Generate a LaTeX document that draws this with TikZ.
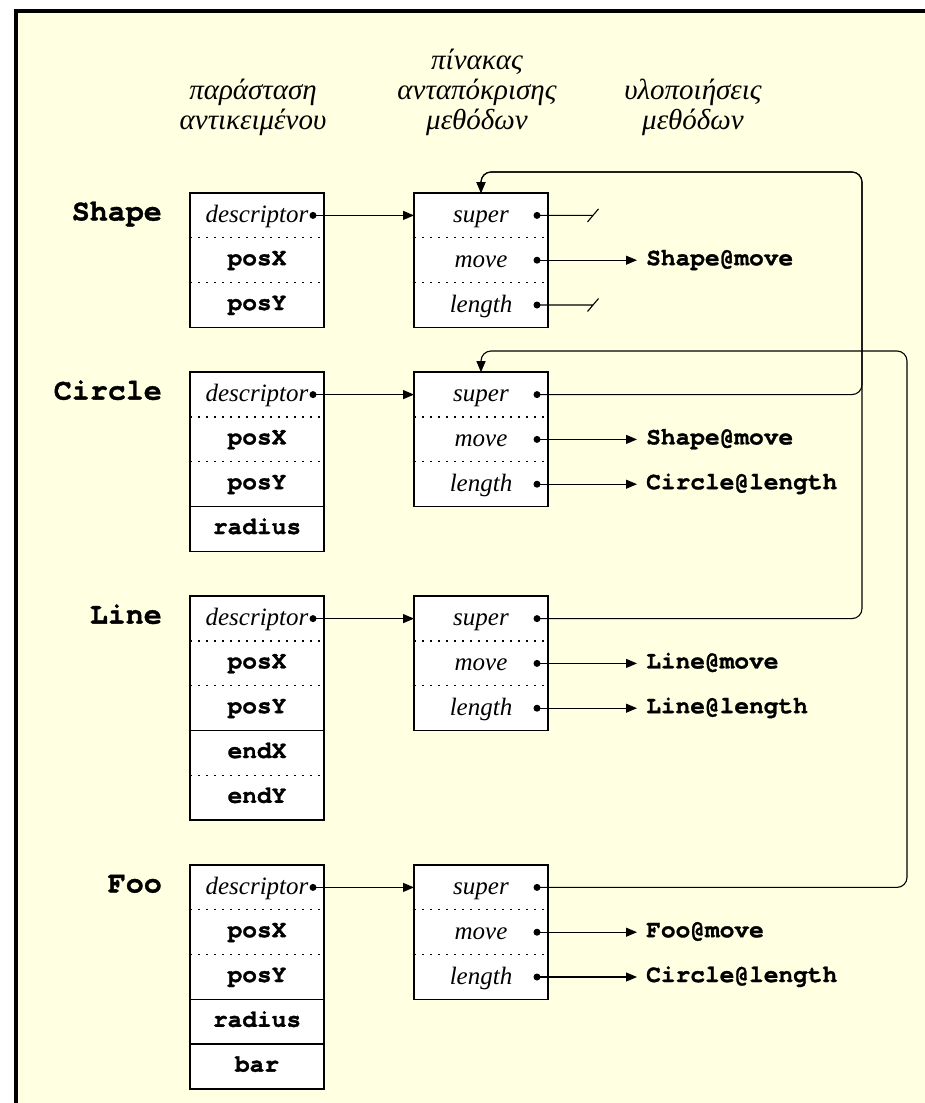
\documentclass[tikz,border=0pt]{standalone}
\usepackage{fontspec}
\setmainfont{Liberation Serif}
\setmonofont{texgyrecursor}[Extension=.otf,UprightFont=*-regular,BoldFont=*-bold,ItalicFont=*-italic,BoldItalicFont=*-bolditalic,BoldFeatures={FakeBold=1.2}]
\usetikzlibrary{arrows.meta}
\definecolor{paper}{RGB}{255,255,225}

\newcommand\slotfont{\fontsize{25}{30}\selectfont\itshape}
\newcommand\headfont{\fontsize{29}{30}\selectfont\itshape}
\newcommand\codefont{\fontsize{24.5}{29}\selectfont\ttfamily\bfseries}
\newcommand\classfont{\fontsize{30}{36}\selectfont\ttfamily\bfseries}

\begin{document}
\begin{tikzpicture}[x=1pt,y=-1pt,
  cell/.style={minimum width=134pt,minimum height=44.8pt,inner sep=0pt,outer sep=0pt,fill=white},
  slot/.style={cell,font=\slotfont,text height=17pt,text depth=3pt},
  field/.style={cell,font=\codefont,text height=14pt,text depth=4pt},
  frame/.style={draw=black,line width=1.7pt},
  sep/.style={line width=1.2pt,dash pattern=on 1.6pt off 6.4pt},
  solidsep/.style={line width=1.5pt},
  ptr/.style={circle,fill=black,inner sep=0pt,minimum size=7pt},
  link/.style={line width=1.1pt},
  arr/.style={link,-{Triangle[length=11pt,width=9pt]}},
  impl/.style={font=\codefont,anchor=west,inner xsep=9pt,inner ysep=0pt,text height=14pt,text depth=4pt},
  cls/.style={font=\classfont,anchor=base east,inner sep=0pt},
  head/.style={font=\headfont,align=center,anchor=south,inner sep=0pt},
  loop/.style={arr,rounded corners=10pt}
]
\useasboundingbox (0,0) rectangle (925,1103);
% page and frame
\fill[paper] (18,13) rectangle (925,1103);
\fill[black] (14,9) rectangle (925,13);
\fill[black] (14,9) rectangle (18,1103);

% column headings
\node[head] (h-obj)  at (253,136) {παράσταση\\αντικειμένου};
\node[head] (h-tab)  at (477,136) {πίνακας\\ανταπόκρισης\\μεθόδων};
\node[head] (h-impl) at (693,136) {υλοποιήσεις\\μεθόδων};

% ---------------- Shape ----------------
\node[cls] (S) at (162,220.4) {Shape};
\node[slot]  (S-o1) at (257,215.4) {descriptor\hspace{12pt}};
\node[field] (S-o2) at (257,260.2) {posX};
\node[field] (S-o3) at (257,305.0) {posY};
\draw[frame] (S-o1.north west) rectangle (S-o3.south east);
\draw[sep] (S-o1.south west) -- (S-o1.south east);
\draw[sep] (S-o2.south west) -- (S-o2.south east);
\node[ptr] (S-d) at (313,215.4) {};

\node[slot] (S-t1) at (481,215.4) {super};
\node[slot] (S-t2) at (481,260.2) {move};
\node[slot] (S-t3) at (481,305.0) {length};
\draw[frame] (S-t1.north west) rectangle (S-t3.south east);
\draw[sep] (S-t1.south west) -- (S-t1.south east);
\draw[sep] (S-t2.south west) -- (S-t2.south east);
\node[ptr] (S-p1) at (537,215.4) {};
\node[ptr] (S-p2) at (537,260.2) {};
\node[ptr] (S-p3) at (537,305.0) {};

\node[impl] (S-i2) at (637,260.2) {Shape@move};

\draw[arr] (S-d.center) -- (S-t1.west);
\draw[link] (S-p1.center) -- ++(56,0) coordinate (S-n1) ++(-5.5,6.5) -- ++(11,-13);
\draw[arr] (S-p2.center) -- (S-i2.west);
\draw[link] (S-p3.center) -- ++(56,0) coordinate (S-n3) ++(-5.5,6.5) -- ++(11,-13);

% ---------------- Circle ----------------
\node[cls] (C) at (162,399.6) {Circle};
\node[slot]  (C-o1) at (257,394.6) {descriptor\hspace{12pt}};
\node[field] (C-o2) at (257,439.4) {posX};
\node[field] (C-o3) at (257,484.2) {posY};
\node[field] (C-o4) at (257,529.0) {radius};
\draw[frame] (C-o1.north west) rectangle (C-o4.south east);
\draw[sep] (C-o1.south west) -- (C-o1.south east);
\draw[sep] (C-o2.south west) -- (C-o2.south east);
\draw[solidsep] (C-o3.south west) -- (C-o3.south east);
\node[ptr] (C-d) at (313,394.6) {};

\node[slot] (C-t1) at (481,394.6) {super};
\node[slot] (C-t2) at (481,439.4) {move};
\node[slot] (C-t3) at (481,484.2) {length};
\draw[frame] (C-t1.north west) rectangle (C-t3.south east);
\draw[sep] (C-t1.south west) -- (C-t1.south east);
\draw[sep] (C-t2.south west) -- (C-t2.south east);
\node[ptr] (C-p1) at (537,394.6) {};
\node[ptr] (C-p2) at (537,439.4) {};
\node[ptr] (C-p3) at (537,484.2) {};

\node[impl] (C-i2) at (637,439.4) {Shape@move};
\node[impl] (C-i3) at (637,484.2) {Circle@length};

\draw[arr] (C-d.center) -- (C-t1.west);
\draw[arr] (C-p2.center) -- (C-i2.west);
\draw[arr] (C-p3.center) -- (C-i3.west);

% ---------------- Line ----------------
\node[cls] (L) at (162,623.6) {Line};
\node[slot]  (L-o1) at (257,618.6) {descriptor\hspace{12pt}};
\node[field] (L-o2) at (257,663.4) {posX};
\node[field] (L-o3) at (257,708.2) {posY};
\node[field] (L-o4) at (257,753.0) {endX};
\node[field] (L-o5) at (257,797.8) {endY};
\draw[frame] (L-o1.north west) rectangle (L-o5.south east);
\draw[sep] (L-o1.south west) -- (L-o1.south east);
\draw[sep] (L-o2.south west) -- (L-o2.south east);
\draw[solidsep] (L-o3.south west) -- (L-o3.south east);
\draw[sep] (L-o4.south west) -- (L-o4.south east);
\node[ptr] (L-d) at (313,618.6) {};

\node[slot] (L-t1) at (481,618.6) {super};
\node[slot] (L-t2) at (481,663.4) {move};
\node[slot] (L-t3) at (481,708.2) {length};
\draw[frame] (L-t1.north west) rectangle (L-t3.south east);
\draw[sep] (L-t1.south west) -- (L-t1.south east);
\draw[sep] (L-t2.south west) -- (L-t2.south east);
\node[ptr] (L-p1) at (537,618.6) {};
\node[ptr] (L-p2) at (537,663.4) {};
\node[ptr] (L-p3) at (537,708.2) {};

\node[impl] (L-i2) at (637,663.4) {Line@move};
\node[impl] (L-i3) at (637,708.2) {Line@length};

\draw[arr] (L-d.center) -- (L-t1.west);
\draw[arr] (L-p2.center) -- (L-i2.west);
\draw[arr] (L-p3.center) -- (L-i3.west);

% ---------------- Foo ----------------
\node[cls] (F) at (162,892.4) {Foo};
\node[slot]  (F-o1) at (257,887.4) {descriptor\hspace{12pt}};
\node[field] (F-o2) at (257,932.2) {posX};
\node[field] (F-o3) at (257,977.0) {posY};
\node[field] (F-o4) at (257,1021.8) {radius};
\node[field] (F-o5) at (257,1066.6) {bar};
\draw[frame] (F-o1.north west) rectangle (F-o5.south east);
\draw[sep] (F-o1.south west) -- (F-o1.south east);
\draw[sep] (F-o2.south west) -- (F-o2.south east);
\draw[solidsep] (F-o3.south west) -- (F-o3.south east);
\draw[solidsep] (F-o4.south west) -- (F-o4.south east);
\node[ptr] (F-d) at (313,887.4) {};

\node[slot] (F-t1) at (481,887.4) {super};
\node[slot] (F-t2) at (481,932.2) {move};
\node[slot] (F-t3) at (481,977.0) {length};
\draw[frame] (F-t1.north west) rectangle (F-t3.south east);
\draw[sep] (F-t1.south west) -- (F-t1.south east);
\draw[sep] (F-t2.south west) -- (F-t2.south east);
\node[ptr] (F-p1) at (537,887.4) {};
\node[ptr] (F-p2) at (537,932.2) {};
\node[ptr] (F-p3) at (537,977.0) {};

\node[impl] (F-i2) at (637,932.2) {Foo@move};
\node[impl] (F-i3) at (637,977.0) {Circle@length};

\draw[arr] (F-d.center) -- (F-t1.west);
\draw[arr] (F-p2.center) -- (F-i2.west);
\draw[arr] (F-p3.center) -- (F-i3.west);

% ---------------- super links ----------------
\draw[loop] (C-p1.center) -| (862,172) -| (S-t1.north);
\draw[loop] (L-p1.center) -| (862,172) -| (S-t1.north);
\draw[loop] (F-p1.center) -| (907,351) -| (C-t1.north);
\end{tikzpicture}
\end{document}
